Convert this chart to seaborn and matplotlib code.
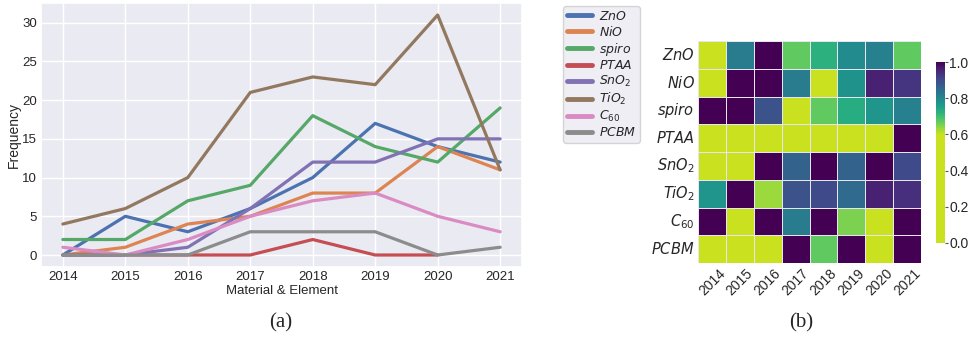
import numpy as np
import pandas as pd
import matplotlib
matplotlib.use("Agg")
import matplotlib.pyplot as plt
from matplotlib.colors import ListedColormap
import seaborn as sns

years = [2014, 2015, 2016, 2017, 2018, 2019, 2020, 2021]
materials = [r"$ZnO$", r"$NiO$", r"$spiro$", r"$PTAA$",
             r"$SnO_2$", r"$TiO_2$", r"$C_{60}$", r"$PCBM$"]

# yearly publication counts per material
zno = [0, 5, 3, 6, 10, 17, 14, 12]
nio = [0, 1, 4, 5, 8, 8, 14, 11]
spiro = [2, 2, 7, 9, 18, 14, 12, 19]
ptaa = [0, 0, 0, 0, 2, 0, 0, np.nan]
sno2 = [0, 0, 1, 6, 12, 12, 15, 15]
tio2 = [4, 6, 10, 21, 23, 22, 31, 11]
c60 = [1, 0, 2, 5, 7, 8, 5, 3]
pcbm = [0, 0, 0, 3, 3, 3, 0, 1]

# normalised score per material and year (heatmap)
h_zno = [0.00, 0.82, 1.00, 0.67, 0.72, 0.79, 0.81, 0.67]
h_nio = [0.00, 1.00, 1.00, 0.82, 0.00, 0.78, 0.96, 0.93]
h_spiro = [1.00, 1.00, 0.89, 0.00, 0.67, 0.73, 0.77, 0.81]
h_ptaa = [0.00, 0.00, 0.00, 0.00, 0.00, 0.00, 0.00, 1.00]
h_sno2 = [0.00, 0.00, 1.00, 0.86, 1.00, 0.86, 1.00, 0.90]
h_tio2 = [0.77, 1.00, 0.63, 0.89, 0.90, 0.85, 0.96, 0.94]
h_c60 = [1.00, 0.00, 1.00, 0.82, 1.00, 0.65, 0.00, 1.00]
h_pcbm = [0.00, 0.00, 0.00, 1.00, 0.67, 1.00, 0.00, 1.00]

counts = [zno, nio, spiro, ptaa, sno2, tio2, c60, pcbm]
scores = [h_zno, h_nio, h_spiro, h_ptaa, h_sno2, h_tio2, h_c60, h_pcbm]

sns.set_theme(style="darkgrid", palette="deep")
plt.rcParams["font.family"] = ["Liberation Sans", "DejaVu Sans"]
plt.rcParams["mathtext.fontset"] = "dejavusans"

long_df = pd.DataFrame(
    [(y, m, v) for m, vals in zip(materials, counts) for y, v in zip(years, vals)],
    columns=["year", "material", "count"],
)
heat_df = pd.DataFrame(scores, index=materials, columns=years)

W, H = 969, 343
fig = plt.figure(figsize=(W / 100, H / 100), dpi=100)


def box(x0, y0, x1, y1):
    return [x0 / W, 1 - y1 / H, (x1 - x0) / W, (y1 - y0) / H]


# (a) line chart
ax = fig.add_axes(box(41, 3, 522, 267))
sns.lineplot(data=long_df, x="year", y="count", hue="material",
             hue_order=materials, linewidth=2.3, ax=ax)
ax.set_xticks(years)
ax.set_yticks([0, 5, 10, 15, 20, 25, 30])
ax.tick_params(labelsize=9.5, length=0, pad=3)
ax.set_ylabel("Frequency", fontsize=10, labelpad=1)
ax.set_xlabel("Material & Element", fontsize=9.5, labelpad=1)
leg = ax.legend(loc="upper left", bbox_to_anchor=(563 / W, 1 - 6 / H),
                bbox_transform=fig.transFigure, borderaxespad=0, fontsize=9,
                handlelength=2.0, labelspacing=0.15, borderpad=0.3,
                handletextpad=0.55, frameon=True)
for line in leg.get_lines():
    line.set_linewidth(3.5)

# (b) heatmap: flat colour below 0.6, reversed viridis above
vir = plt.get_cmap("viridis")
t = np.linspace(0, 1, 256)
top = 0.92
cols = [vir(top) if v <= 0.6 else vir(top * (1 - v) / 0.4) for v in t]
cmap = ListedColormap(cols)

hax = fig.add_axes(box(698, 41, 921, 263))
cax = fig.add_axes(box(936, 62, 945, 243))
sns.heatmap(heat_df, ax=hax, cbar_ax=cax, cmap=cmap, vmin=0, vmax=1,
            linewidths=0.6, linecolor="#e6e6ee")
hax.set_xticklabels([str(y) for y in years], rotation=45, fontsize=10)
hax.set_yticklabels(materials, rotation=0, fontsize=10.5)
hax.tick_params(length=0, pad=2.5)
cax.set_yticks([0, 0.2, 0.4, 0.6, 0.8, 1.0])
cax.tick_params(labelsize=10, length=2.5, width=0.8, color="#555555", pad=0.5)

fig.text(281 / W, 1 - 323 / H, "(a)", ha="center", va="center",
         fontsize=15, family="Liberation Serif")
fig.text(801 / W, 1 - 323 / H, "(b)", ha="center", va="center",
         fontsize=15, family="Liberation Serif")

fig.savefig("out.png", dpi=100)
